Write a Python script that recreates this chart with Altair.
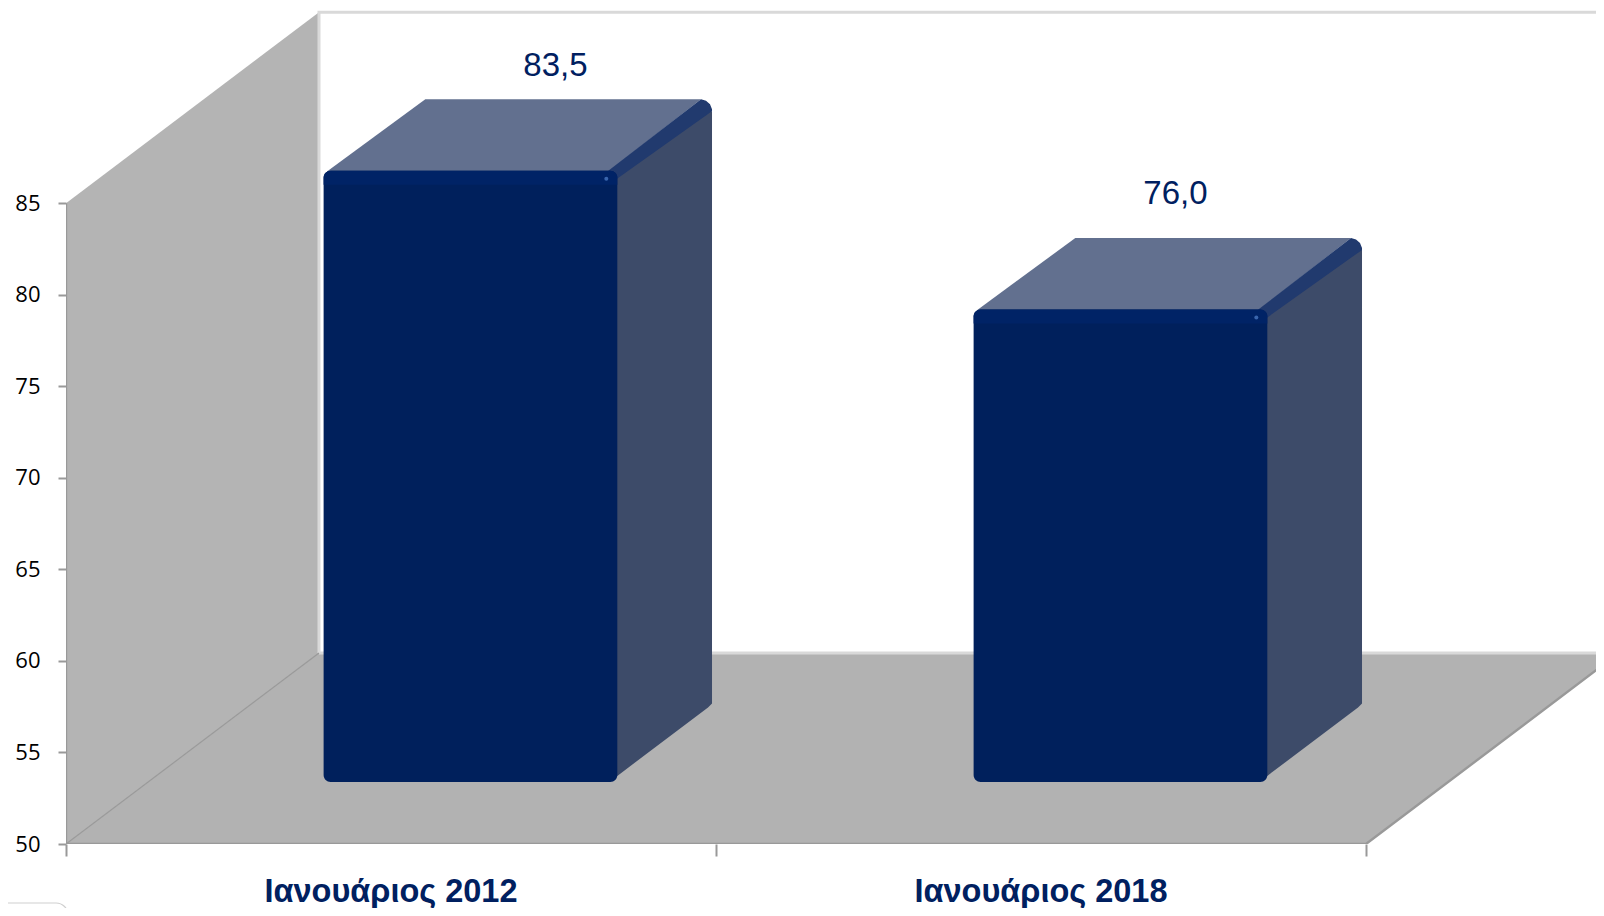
import altair as alt
import pandas as pd

categories = ["Ιανουάριος 2012", "Ιανουάριος 2018"]
values = [83.38, 75.80]
value_labels = ["83,5", "76,0"]
y_ticks = [50, 55, 60, 65, 70, 75, 80, 85]
x_ticks = [0, 1, 2]
label_dx_px = [85, 55]
label_dy_px = [105, 115]

PX_Y = 18.31
PX_X = 650.0
W, H = 1530, 836
BASE = 50
XMAX = W / PX_X
YMAX = BASE + H / PX_Y
TOPV = 85
DX = 253 / PX_X          # box depth on x
DV = 191 / PX_Y          # box depth on y
BW = 293.7 / PX_X        # bar width
BOX0 = 0.32              # where the bar starts in the depth of the box
BDX = 94.7 / PX_X
BDV = 71.5 / PX_Y
px = 1 / PX_X
py = 1 / PX_Y

NAVY = "#00205C"

front, side, top, strip, edge, text, dots, cat = [], [], [], [], [], [], [], []
for i, (c, v, l) in enumerate(zip(categories, values, value_labels)):
    x0 = i + 0.5 - BW / 2 + BOX0 * DX - 1.5 * px
    x1 = x0 + BW
    xe = x1 + BDX
    b = BASE + BOX0 * DV + 1 * py
    t = b + (v - BASE)
    front.append(dict(c=c, x=x0, x2=x1, y=b, y2=t))
    strip.append(dict(c=c, x=x0, x2=x1, y=t - 14 * py, y2=t))
    # side face: lower edge lifted slightly, far lower corner softened
    low = b + 6 * py
    side += [
        dict(c=c, x=x1 - 9 * px, y=b + 2 * py, y2=t),
        dict(c=c, x=x1, y=low, y2=t),
        dict(c=c, x=xe - 4 * px, y=low + BDV * (1 - 4 / 94.7), y2=t + BDV - 12 * py),
        dict(c=c, x=xe, y=low + BDV * (1 - 4 / 94.7) + 4 * py, y2=t + BDV - 12 * py),
    ]
    # bevel running along the top right edge, rounded at the far corner
    lo = lambda xx: t - 8 * py + (BDV - 4 * py) * (xx - x1) / (xe - x1)
    edge += [
        dict(c=c, x=x1 - 9 * px, y=lo(x1 - 9 * px), y2=t),
        dict(c=c, x=xe - 11 * px, y=lo(xe - 11 * px), y2=t + BDV),
        dict(c=c, x=xe - 6 * px, y=lo(xe - 6 * px), y2=t + BDV - 1.5 * py),
        dict(c=c, x=xe - 2 * px, y=lo(xe - 2 * px), y2=t + BDV - 5 * py),
        dict(c=c, x=xe, y=lo(xe), y2=t + BDV - 10 * py),
    ]
    top += [dict(c=c, y=t - 1 * py, x=x0 + 3 * px, x2=x1 - 9 * px),
            dict(c=c, y=t + BDV, x=x0 + BDX + 7 * px, x2=xe - 11 * px)]
    text.append(dict(c=c, t=l, x=(x0 + x1) / 2 + label_dx_px[i] * px, y=t + label_dy_px[i] * py))
    dots.append(dict(c=c, x=x1 - 11 * px, y=t - 8 * py))
    cat.append(dict(c=c, x=i + 0.5))

xs = alt.Scale(domain=[0, XMAX], nice=False, zero=False)
ys = alt.Scale(domain=[BASE, YMAX], nice=False, zero=False)
x_axis = alt.Axis(values=x_ticks, labels=False, domain=False, grid=False, ticks=True, title=None,
                  tickSize=12, tickColor="#999999", tickWidth=2)
y_axis = alt.Axis(values=y_ticks, domain=False, grid=False, ticks=True, title=None,
                  tickSize=8, tickColor="#999999", tickWidth=2, labelFont="Open Sans", labelFontSize=22,
                  labelColor="#000000", labelPadding=18, format="d")
X = lambda f="x": alt.X(f"{f}:Q", scale=xs, axis=x_axis)
Y = lambda f="y": alt.Y(f"{f}:Q", scale=ys, axis=y_axis)

wall = alt.Chart(pd.DataFrame([dict(x=0, y=BASE, y2=TOPV), dict(x=DX, y=BASE + DV, y2=TOPV + DV)])).mark_area(
    color="#B4B4B4", orient="vertical").encode(x=X(), y=Y(), y2="y2:Q")
floor = alt.Chart(pd.DataFrame([dict(y=BASE, x=0, x2=2), dict(y=BASE + DV, x=DX, x2=2 + DX)])).mark_area(
    color="#B2B2B2", orient="horizontal", clip=True).encode(y=Y(), x=X(), x2="x2:Q")


def seg(rows, color, width, clip=True):
    d = pd.DataFrame(rows)
    return alt.Chart(d).mark_line(color=color, strokeWidth=width, clip=clip).encode(
        x=X(), y=Y(), detail="g:N", order="o:Q")


back = seg([dict(g=0, o=0, x=DX, y=BASE + DV), dict(g=0, o=1, x=DX, y=TOPV + DV), dict(g=0, o=2, x=XMAX, y=TOPV + DV),
            dict(g=1, o=0, x=DX, y=BASE + DV), dict(g=1, o=1, x=XMAX, y=BASE + DV)], "#D9D9D9", 3)
diag = seg([dict(g=0, o=0, x=0, y=BASE), dict(g=0, o=1, x=DX, y=BASE + DV)], "#999999", 1.2)
front_axes = seg([dict(g=0, o=0, x=0, y=TOPV), dict(g=0, o=1, x=0, y=BASE), dict(g=0, o=2, x=2, y=BASE),
                  dict(g=0, o=3, x=2 + DX, y=BASE + DV)], "#999999", 2.4, clip=True)

side_m = alt.Chart(pd.DataFrame(side)).mark_area(color="#3D4B69", orient="vertical").encode(x=X(), y=Y(), y2="y2:Q", detail="c:N")
top_m = alt.Chart(pd.DataFrame(top)).mark_area(color="#62708F", orient="horizontal").encode(y=Y(), x=X(), x2="x2:Q", detail="c:N")
edge_m = alt.Chart(pd.DataFrame(edge)).mark_area(color="#213A6E", orient="vertical").encode(x=X(), y=Y(), y2="y2:Q", detail="c:N")
front_m = alt.Chart(pd.DataFrame(front)).mark_rect(color=NAVY, cornerRadius=7).encode(x=X(), x2="x2:Q", y=Y(), y2="y2:Q")
strip_m = alt.Chart(pd.DataFrame(strip)).mark_rect(color="#002366", cornerRadiusTopLeft=7, cornerRadiusTopRight=7).encode(
    x=X(), x2="x2:Q", y=Y(), y2="y2:Q")
dot_m = alt.Chart(pd.DataFrame(dots)).mark_point(color="#3F6DB5", filled=True, size=16, opacity=0.9).encode(x=X(), y=Y())
val_m = alt.Chart(pd.DataFrame(text)).mark_text(font="Liberation Sans", fontSize=33, color="#002060",
                                                 baseline="middle", align="center").encode(x=X(), y=Y(), text="t:N")
cat_m = alt.Chart(pd.DataFrame(cat)).mark_text(font="Liberation Sans", fontWeight="bold", fontSize=32.5, color="#002060",
                                                baseline="middle", align="center").encode(
    x=X(), y=alt.value(H + 48), text="c:N")
corner = alt.Chart(pd.DataFrame({"g": [0]})).mark_rect(fill="#FFFFFF", stroke="#CFCFCF", strokeWidth=1.2, cornerRadius=12).encode(
    x=alt.value(-70), x2=alt.value(2), y=alt.value(H + 59), y2=alt.value(H + 90))

chart = alt.layer(wall, floor, back, diag, front_axes, side_m, top_m, edge_m, front_m, strip_m, dot_m, val_m, cat_m, corner).properties(
    width=W, height=H, padding={"left": 58, "top": 0, "right": 0, "bottom": 64},
    autosize=alt.AutoSizeParams(type="none"), background="#FFFFFF",
).configure_view(stroke=None)

chart.save("out.html", embed_options={"renderer": "svg", "actions": False})
